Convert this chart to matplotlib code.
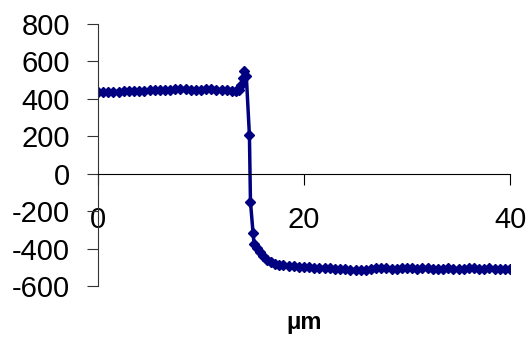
import matplotlib
matplotlib.use("Agg")
import matplotlib.pyplot as plt

plt.rcParams['font.family'] = ['Liberation Sans', 'DejaVu Sans']
plt.rcParams['axes.unicode_minus'] = False

# profile position (um) and signal
x_um = [0.0, 0.5, 1.0, 1.5, 2.0, 2.5, 3.0, 3.5, 4.0, 4.5, 5.0, 5.5, 6.0, 6.5,
        7.0, 7.5, 8.0, 8.5, 9.0, 9.5, 10.0, 10.5, 11.0, 11.5, 12.0, 12.5,
        13.0, 13.4, 13.7, 13.9, 14.1, 14.2, 14.4, 14.7, 14.8, 15.05, 15.15,
        15.4, 15.7, 16.0, 16.4, 16.8, 17.2, 17.6, 18.0, 18.5, 19.0, 19.5,
        20.0, 20.5, 21.0, 21.5, 22.0, 22.5, 23.0, 23.5, 24.0, 24.5, 25.0,
        25.5, 26.0, 26.5, 27.0, 27.5, 28.0, 28.5, 29.0, 29.5, 30.0, 30.5,
        31.0, 31.5, 32.0, 32.5, 33.0, 33.5, 34.0, 34.5, 35.0, 35.5, 36.0,
        36.5, 37.0, 37.5, 38.0, 38.5, 39.0, 39.5, 40.0]
signal = [438, 436, 435, 437, 438, 440, 442, 441, 443, 444, 445, 446, 447, 448,
          449, 452, 455, 453, 450, 448, 449, 451, 452, 450, 449, 446,
          444, 443, 450, 475, 510, 550, 520, 205, -150, -315, -375,
          -395, -420, -440, -460, -472, -480, -486, -490, -492, -494, -497,
          -500, -498, -502, -505, -503, -506, -508, -507, -510, -512, -515,
          -513, -516, -510, -505, -503, -506, -508, -507, -505, -504, -506,
          -508, -505, -503, -508, -510, -507, -505, -508, -510, -509, -506,
          -505, -508, -507, -506, -508, -510, -508, -510]

y_ticks = [-600, -400, -200, 0, 200, 400, 600, 800]
x_ticks = [0, 20, 40]

fig = plt.figure(figsize=(5.28, 3.38), dpi=100)
ax = fig.add_axes([0.1856, 0.1538, 0.966 - 0.1856, 0.929 - 0.1538])

ax.plot(x_um, signal, color='#000080', lw=2.5, marker='D', ms=5.5,
        markeredgecolor='#000080')

ax.set_xlim(0, 40)
ax.set_ylim(-600, 800)
ax.set_yticks(y_ticks)
ax.set_xticks(x_ticks)

for s in ['top', 'right']:
    ax.spines[s].set_visible(False)
ax.spines['bottom'].set_position(('data', 0))
ax.spines['left'].set_color('#333333')
ax.spines['bottom'].set_color('black')

ax.tick_params(axis='y', direction='out', length=8, labelsize=21, pad=12,
               color='#333333')
ax.tick_params(axis='x', direction='out', length=8, labelsize=21, pad=15)

ax.set_xlabel('μm', fontsize=17, fontweight='bold')
ax.xaxis.set_label_coords(0.5, -0.095)

fig.savefig('out.png', dpi=100)
